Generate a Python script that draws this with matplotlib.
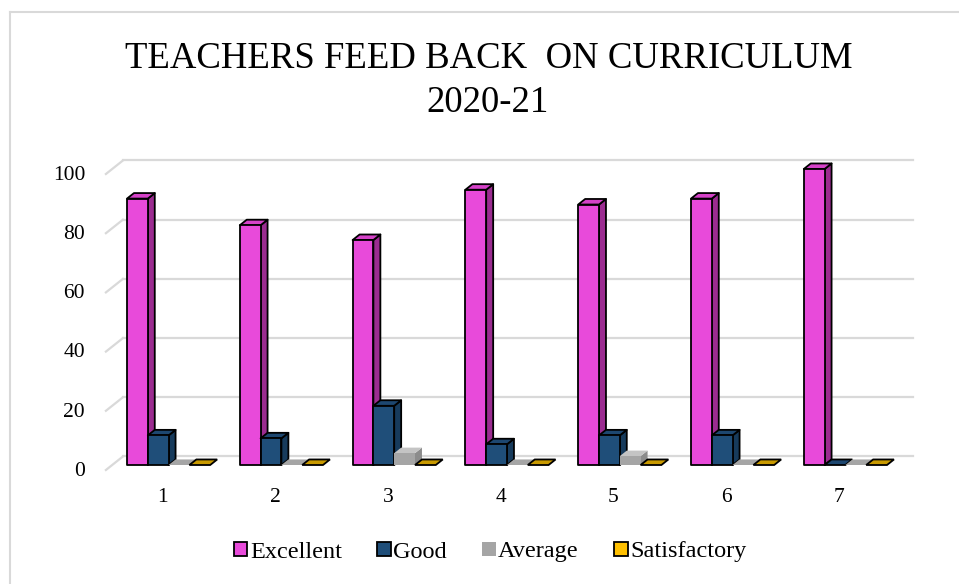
import matplotlib.pyplot as plt
from matplotlib.patches import Polygon, Patch
from matplotlib.lines import Line2D

plt.rcParams['font.family'] = ['Liberation Serif', 'DejaVu Serif']

# data
categories = ['1', '2', '3', '4', '5', '6', '7']
series_names = ['Excellent', 'Good', 'Average', 'Satisfactory']
excellent = [90, 81, 76, 93, 88, 90, 100]
good = [10, 9, 20, 7, 10, 10, 0]
average = [0, 0, 4, 0, 3, 0, 0]
satisfactory = [0, 0, 0, 0, 0, 0, 0]
y_ticks = [0, 20, 40, 60, 80, 100]

series_values = [excellent, good, average, satisfactory]

# front, top, side, edge
colors = {
    'Excellent': ('#E84ADA', '#D542C8', '#9B2C90', 'black'),
    'Good': ('#1F4E79', '#1D4770', '#173B5C', 'black'),
    'Average': ('#A5A5A5', '#C4C4C4', '#8C8C8C', 'none'),
    'Satisfactory': ('#FFC000', '#C99A00', '#B08700', 'black'),
}
legend_colors = {'Excellent': '#E84ADA', 'Good': '#1F4E79',
                 'Average': '#A5A5A5', 'Satisfactory': '#FFC000'}

W, H = 959, 584
fig = plt.figure(figsize=(W / 100, H / 100), dpi=100)
ax = fig.add_axes([0, 0, 1, 1])

# pixel scale of the front plane of the bars
px_cat = 112.8
px_val = 2.96
x0_px = 168.6
y0_px = 119
ax.set_xlim(-x0_px / px_cat, (W - x0_px) / px_cat)
ax.set_ylim(-y0_px / px_val, (H - y0_px) / px_val)
ax.axis('off')

# fake 3d depth
DX = 17 / px_cat
DV = 13.5 / px_val
T_FRONT = 0.37
T_BACK = 0.78
bar_w = 20.8 / px_cat


def proj(x, v, t):
    return (x + (t - T_FRONT) * DX, v + (t - T_FRONT) * DV)


grid_col = '#D9D9D9'
x_left = -0.5
x_right = len(categories) - 0.5
for v in y_ticks:
    p0, p1 = proj(x_left, v, 1), proj(x_right, v, 1)
    ax.plot([p0[0], p1[0]], [p0[1], p1[1]], color=grid_col, lw=1.6, zorder=1)
    q0 = proj(x_left, v, 0)
    ax.plot([q0[0], p0[0]], [q0[1], p0[1]], color=grid_col, lw=1.6, zorder=1)
    ax.annotate(str(v), xy=q0, xytext=(-15, -1), textcoords='offset points',
                ha='right', va='center', fontsize=15.5)

for i, cat in enumerate(categories):
    ax.annotate(cat, xy=proj(i, 0, 0), xytext=(0, -19.5), textcoords='offset points',
                ha='center', va='center', fontsize=15.5)
    for j, name in enumerate(series_names):
        v = series_values[j][i]
        front, top, side, edge = colors[name]
        xl = i - 2 * bar_w + j * bar_w
        xr = xl + bar_w
        lw = 1.3 if edge != 'none' else 0
        z = 3 + i * 10 + j
        top_pts = [proj(xl, v, T_FRONT), proj(xr, v, T_FRONT),
                   proj(xr, v, T_BACK), proj(xl, v, T_BACK)]
        if v == 0:
            col = top if name != 'Average' else front
            ax.add_patch(Polygon(top_pts, closed=True, facecolor=col,
                                 edgecolor=edge, lw=lw, zorder=z))
            continue
        side_pts = [proj(xr, 0, T_FRONT), proj(xr, v, T_FRONT),
                    proj(xr, v, T_BACK), proj(xr, 0, T_BACK)]
        front_pts = [proj(xl, 0, T_FRONT), proj(xr, 0, T_FRONT),
                     proj(xr, v, T_FRONT), proj(xl, v, T_FRONT)]
        for pts, col in [(side_pts, side), (top_pts, top), (front_pts, front)]:
            ax.add_patch(Polygon(pts, closed=True, facecolor=col, edgecolor=edge,
                                 lw=lw, joinstyle='round', zorder=z))

# chart border (cut off at right and bottom)
fig.add_artist(Line2D([10 / W, 10 / W], [0, 1 - 12 / H], color=grid_col, lw=1.5))
fig.add_artist(Line2D([10 / W, 1], [1 - 12 / H, 1 - 12 / H], color=grid_col, lw=1.5))

fig.text(489 / W, 1 - 68 / H, 'TEACHERS FEED BACK  ON CURRICULUM',
         ha='center', va='baseline', fontsize=26.5)
fig.text(488 / W, 1 - 112 / H, '2020-21', ha='center', va='baseline', fontsize=26.5)

handles = [Patch(facecolor=legend_colors[n], edgecolor=colors[n][3],
                 lw=1.3 if colors[n][3] != 'none' else 0, label=n)
           for n in series_names]
fig.legend(handles=handles, loc='center', bbox_to_anchor=(490 / W, 1 - 552 / H),
           ncol=4, frameon=False, fontsize=17.5, handlelength=0.56, handleheight=0.56,
           handletextpad=0.1, columnspacing=1.45)

fig.savefig('out.png', dpi=100)
